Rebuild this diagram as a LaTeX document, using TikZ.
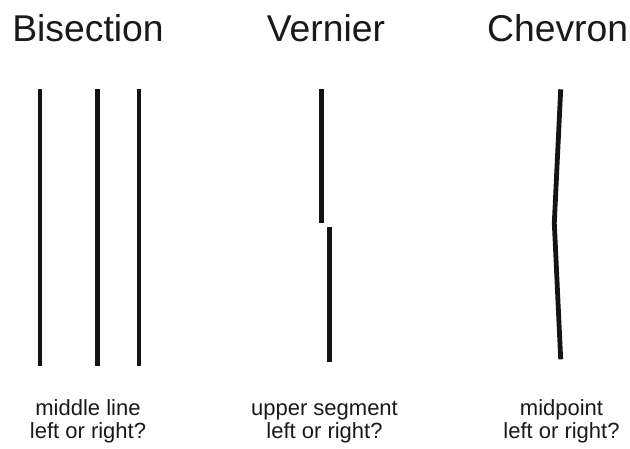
\documentclass[tikz,border=0pt]{standalone}
\usepackage{fontspec}
\setmainfont{Liberation Sans}
\tikzset{
  stim/.style={line width=4.8pt, line cap=butt, line join=miter, color=black!92},
  title/.style={anchor=base, inner sep=0pt, font=\fontsize{37.3}{40}\selectfont, text=black!90},
  question/.style={anchor=base, inner sep=0pt, font=\fontsize{22}{23}\selectfont, text=black!90}
}
\newcommand{\twolines}[2]{\setlength{\tabcolsep}{0pt}\renewcommand{\arraystretch}{1}\begin{tabular}[t]{c}#1\\#2\end{tabular}}
\begin{document}
\begin{tikzpicture}[x=1pt,y=-1pt]
\useasboundingbox[fill=white] (0,0) rectangle (630,448);
% titles
\node[title] (tB) at (88,41.7) {Bisection};
\node[title] (tV) at (326,41.7) {Vernier};
\node[title] (tC) at (557.6,41.7) {Chevron};
% bisection
\draw[stim] (40,89.3) -- (40,366);
\draw[stim] (97.7,89.3) -- (97.7,366);
\draw[stim] (139,89.3) -- (139,366);
% vernier
\draw[stim] (321.7,89.3) -- (321.7,223.3);
\draw[stim] (329.7,227.3) -- (329.7,361.7);
% chevron
\draw[stim] (560.7,89.3) -- (554.3,223) -- (560.7,359.3);
% questions
\node[question] (qB) at (88,415) {\twolines{middle line}{left or right?}};
\node[question] (qV) at (324.5,415) {\twolines{upper segment}{left or right?}};
\node[question] (qC) at (561.5,415) {\twolines{midpoint}{left or right?}};
\end{tikzpicture}
\end{document}
